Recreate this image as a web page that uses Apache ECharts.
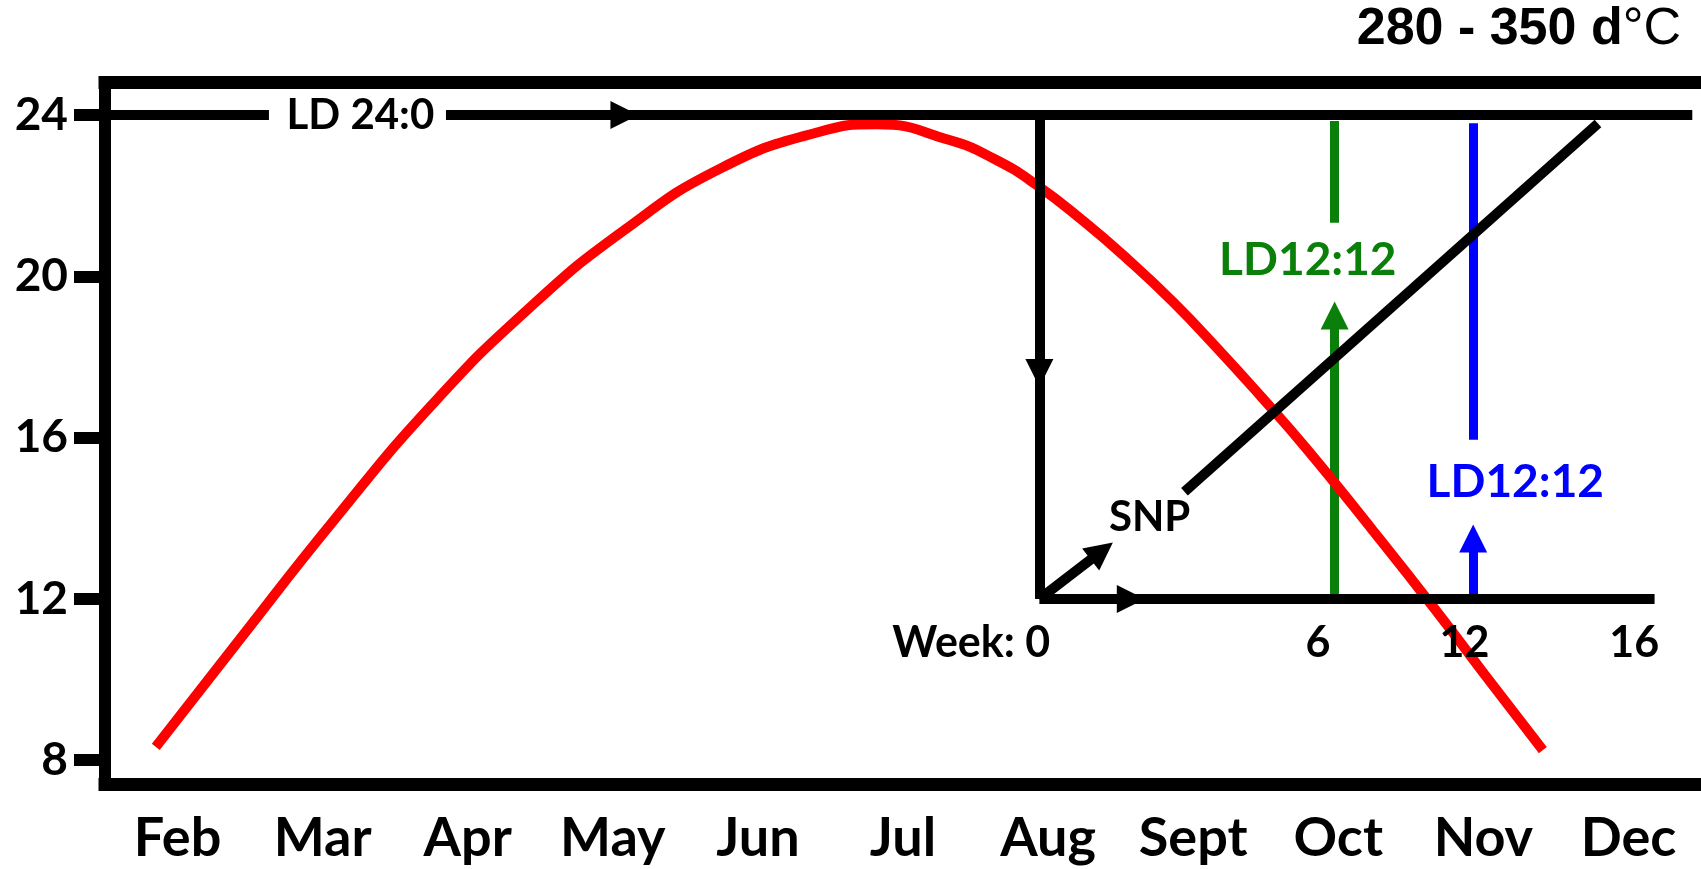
<!DOCTYPE html>
<html>
<head>
<meta charset="utf-8">
<script src="https://cdn.jsdelivr.net/npm/echarts@6/dist/echarts.min.js"></script>
<style>
  html, body { margin: 0; padding: 0; background: #fff; }
  #chart { width: 1701px; height: 869px; }
</style>
</head>
<body>
<div id="chart"></div>
<script>
// month axis: Feb = 2 ... Dec = 12 ; y axis: hours of light
var months = ['Feb', 'Mar', 'Apr', 'May', 'Jun', 'Jul', 'Aug', 'Sept', 'Oct', 'Nov', 'Dec'];
var yTicks = [8, 12, 16, 20, 24];

// day length curve (red)
var redCurve = [
    [1.85, 8.33], [2.41, 10.91], [3.08, 13.96], [3.75, 16.8], [4.42, 19.2],
    [5.08, 21.15], [5.75, 22.69], [6.42, 23.58], [6.82, 23.77], [7.32, 23.38],
    [7.63, 22.91], [7.92, 22.27], [8.24, 21.38], [8.55, 20.42], [8.86, 19.37],
    [9.16, 18.24], [9.47, 17.01], [9.78, 15.73], [10.24, 13.69], [10.67, 11.73],
    [11.01, 10.12], [11.41, 8.25]
];

// black schematic segments
var blackSegments = [
    [[1.51, 24], [2.63, 24]],
    [[5.08, 24], [12.44, 24]],
    [[7.94, 17.6], [7.94, 12]],
    [[8.57, 12], [12.18, 12]],
    [[8.94, 14.66], [11.79, 23.79]]
];
var blackArrows = [
    [[3.85, 24], [5.08, 24]],
    [[7.94, 24], [7.94, 17.6]],
    [[7.94, 12], [8.57, 12]],
    [[7.94, 12], [8.37, 13.19]]
];
var greenSegments = [[[9.975, 23.85], [9.975, 21.33]]];
var greenArrows = [[[9.975, 12], [9.975, 19.03]]];
var blueSegments = [[[10.93, 23.8], [10.93, 15.95]]];
var blueArrows = [[[10.93, 12], [10.93, 13.5]]];

// text annotations [month, hours, text]
var blackNotes = [[3.26, 24, 'LD 24:0'], [8.70, 14.03, 'SNP']];
var greenNotes = [[9.79, 20.41, 'LD12:12']];
var blueNotes = [[11.22, 14.9, 'LD12:12']];
var weekLabels = ['Week: 0', '6', '12', '16'];
var weekLabelX = [8.015, 9.86, 10.87, 12.04];
var weekLabelY = 10.9;

var chart = echarts.init(document.getElementById('chart'));

function toLines(arr) {
    return arr.map(function (c) { return {coords: c}; });
}
function noteSeries(arr, color, size) {
    return {
        type: 'scatter', xAxisIndex: 1, yAxisIndex: 0, silent: true,
        symbolSize: 1, itemStyle: {color: 'transparent', opacity: 1},
        data: arr,
        label: {
            show: true, position: 'inside', color: color, opacity: 1,
            fontFamily: 'Lato', fontWeight: 'bold', fontSize: size,
            formatter: function (p) { return p.value[2]; }
        },
        z: 6
    };
}
function lineSeries(arr, color, width, arrow, z) {
    return {
        type: 'lines', coordinateSystem: 'cartesian2d', xAxisIndex: 1, yAxisIndex: 0,
        silent: true,
        symbol: arrow ? ['none', 'triangle'] : 'none',
        symbolSize: arrow ? [0, 28] : 0,
        lineStyle: {color: color, width: width, opacity: 1, curveness: 0},
        data: toLines(arr),
        z: z
    };
}

var weekData = weekLabels.map(function (t, i) {
    var item = {value: [weekLabelX[i], weekLabelY, t]};
    if (i === 0) item.label = {align: 'right'};
    return item;
});

var option = {
    animation: false,
    backgroundColor: '#fff',
    title: {
        text: '{b|280 - 350 d}{n|°C}',
        right: 20, top: 4, padding: 0,
        textStyle: {
            rich: {
                b: {fontFamily: 'Liberation Sans', fontWeight: 'bold', fontSize: 52, color: '#000'},
                n: {fontFamily: 'Liberation Sans', fontWeight: 'normal', fontSize: 52, color: '#000'}
            }
        }
    },
    grid: {left: 105, right: 0, top: 82, bottom: 85},
    xAxis: [
        {
            type: 'category',
            data: months,
            boundaryGap: true,
            position: 'bottom',
            axisLine: {show: true, lineStyle: {color: '#000', width: 13, cap: 'square'}},
            axisTick: {show: false},
            axisLabel: {
                margin: 28, color: '#000', interval: 0,
                fontFamily: 'Lato', fontWeight: 'bold', fontSize: 54
            },
            splitLine: {show: false}
        },
        {
            type: 'value',
            min: 1.5, max: 12.5,
            position: 'top',
            axisLine: {show: true, lineStyle: {color: '#000', width: 13, cap: 'square'}},
            axisTick: {show: false},
            axisLabel: {show: false},
            splitLine: {show: false}
        }
    ],
    yAxis: {
        type: 'value',
        min: 7.41, max: 24.82,
        axisLine: {show: true, lineStyle: {color: '#000', width: 12, cap: 'square'}},
        axisTick: {show: true, length: 31, customValues: yTicks, lineStyle: {color: '#000', width: 12}},
        axisLabel: {
            customValues: yTicks, margin: 37, color: '#000',
            fontFamily: 'Lato', fontWeight: 'bold', fontSize: 46
        },
        splitLine: {show: false}
    },
    series: [
        lineSeries(greenSegments, '#0a800a', 9, false, 2),
        lineSeries(greenArrows, '#0a800a', 9, true, 2),
        lineSeries(blueSegments, '#0000ff', 9, false, 2),
        lineSeries(blueArrows, '#0000ff', 9, true, 2),
        {
            type: 'line', xAxisIndex: 1, yAxisIndex: 0,
            data: redCurve, smooth: true, showSymbol: false, silent: true,
            lineStyle: {color: '#ff0000', width: 10, cap: 'butt'},
            z: 3
        },
        lineSeries(blackSegments, '#000', 10, false, 4),
        lineSeries(blackArrows, '#000', 10, true, 4),
        noteSeries(blackNotes, '#000', 42),
        noteSeries(greenNotes, '#0a800a', 46),
        noteSeries(blueNotes, '#0000ff', 46),
        noteSeries(weekData, '#000', 43)
    ]
};
chart.setOption(option);
window.onresize = chart.resize;
</script>
</body>
</html>
